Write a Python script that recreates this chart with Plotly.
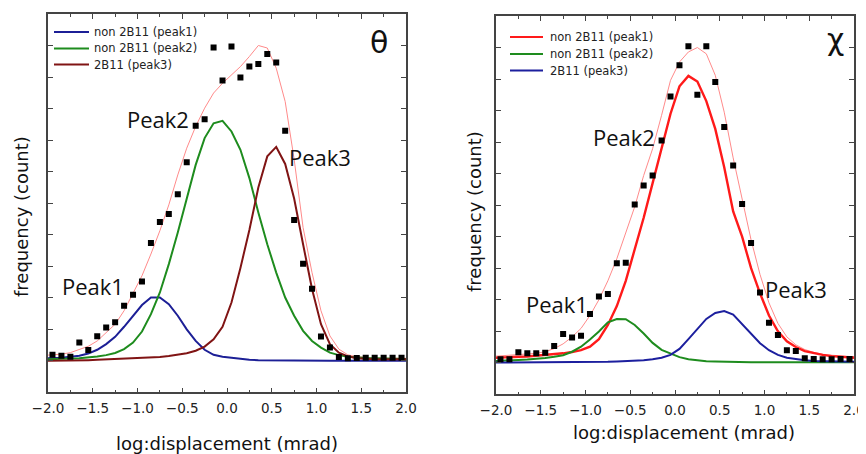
import plotly.graph_objects as go

# ---------------- data ----------------
x_pts = [-1.95, -1.85, -1.75, -1.65, -1.55, -1.45, -1.35, -1.25, -1.15, -1.05,
         -0.95, -0.85, -0.75, -0.65, -0.55, -0.45, -0.35, -0.25, -0.15, -0.05,
         0.05, 0.15, 0.25, 0.35, 0.45, 0.55, 0.65, 0.75, 0.85, 0.95,
         1.05, 1.15, 1.25, 1.35, 1.45, 1.55, 1.65, 1.75, 1.85, 1.95]
x_fit = [-2.0] + x_pts + [2.0]

# theta panel
theta_counts = [0.19, 0.16, 0.13, 0.58, 0.34, 0.78, 1.06, 1.22, 1.75, 2.10,
                2.52, 3.74, 4.41, 4.66, 5.29, 6.30, 7.46, 7.67, 9.95, 8.90,
                9.98, 8.99, 9.34, 9.42, 9.74, 9.47, 7.30, 4.47, 3.08, 2.29,
                0.77, 0.42, 0.12, 0.08, 0.09, 0.10, 0.10, 0.10, 0.10, 0.10]
theta_peak1 = [0.08, 0.08, 0.10, 0.13, 0.16, 0.23, 0.35, 0.53, 0.76, 1.08, 1.43,
               1.77, 2.01, 2.01, 1.80, 1.43, 1.00, 0.63, 0.35, 0.19, 0.13,
               0.09, 0.05, 0.03, 0.02, 0.015, 0.01, 0.008, 0.006, 0.005, 0.004,
               0.003, 0.003, 0.002, 0.002, 0.002, 0.001, 0.001, 0.001, 0.001, 0.0, 0.0]
theta_peak2 = [0.05, 0.05, 0.06, 0.07, 0.08, 0.10, 0.14, 0.18, 0.25, 0.37, 0.58,
               0.93, 1.48, 2.17, 3.07, 4.07, 5.15, 6.22, 7.07, 7.54, 7.62,
               7.28, 6.70, 5.80, 4.71, 3.70, 2.80, 2.01, 1.43, 0.95, 0.63,
               0.42, 0.26, 0.18, 0.13, 0.10, 0.09, 0.08, 0.07, 0.07, 0.06, 0.06]
theta_peak3 = [0.0, 0.0, 0.01, 0.01, 0.02, 0.02, 0.03, 0.04, 0.05, 0.06, 0.07,
               0.09, 0.10, 0.12, 0.15, 0.19, 0.24, 0.32, 0.45, 0.68, 1.08,
               1.85, 2.95, 4.15, 5.50, 6.49, 6.79, 6.25, 5.15, 3.70, 2.28,
               1.16, 0.53, 0.26, 0.14, 0.08, 0.06, 0.05, 0.05, 0.05, 0.05, 0.05]
theta_total = [0.18, 0.19, 0.21, 0.26, 0.35, 0.46, 0.63, 0.90, 1.16, 1.59, 2.12,
               2.70, 3.39, 4.13, 4.95, 5.90, 6.75, 7.44, 8.02, 8.50, 8.81,
               9.08, 9.34, 9.66, 10.01, 9.93, 9.29, 8.23, 6.40, 4.23, 2.80,
               1.59, 0.79, 0.37, 0.19, 0.13, 0.10, 0.09, 0.08, 0.08, 0.08, 0.08]

# chi panel
chi_counts = [0.11, 0.11, 0.33, 0.30, 0.30, 0.32, 0.53, 0.91, 0.80, 0.86,
              1.55, 2.10, 2.18, 3.16, 3.17, 5.02, 5.62, 5.94, 7.05, 8.45,
              9.44, 10.04, 8.50, 10.04, 8.91, 7.48, 6.26, 5.04, 3.80, 2.23,
              1.27, 0.88, 0.40, 0.37, 0.14, 0.12, 0.11, 0.11, 0.12, 0.12]
chi_peak1 = [0.16, 0.17, 0.18, 0.19, 0.20, 0.22, 0.24, 0.27, 0.30, 0.34, 0.40,
             0.51, 0.75, 1.20, 1.80, 2.60, 3.60, 4.60, 5.70, 6.80, 7.90,
             8.77, 9.10, 8.92, 8.30, 7.42, 6.20, 4.80, 4.00, 3.00, 2.20,
             1.50, 1.00, 0.68, 0.50, 0.37, 0.30, 0.25, 0.21, 0.19, 0.17, 0.16]
chi_peak2 = [0.06, 0.07, 0.08, 0.09, 0.10, 0.12, 0.15, 0.19, 0.24, 0.35, 0.51,
             0.74, 0.99, 1.28, 1.39, 1.38, 1.20, 0.93, 0.63, 0.41, 0.29,
             0.18, 0.11, 0.07, 0.05, 0.04, 0.03, 0.03, 0.02, 0.02, 0.02,
             0.02, 0.02, 0.02, 0.02, 0.02, 0.02, 0.02, 0.02, 0.02, 0.02, 0.02]
chi_peak3 = [0.01, 0.01, 0.01, 0.01, 0.01, 0.02, 0.02, 0.02, 0.02, 0.02, 0.03,
             0.03, 0.03, 0.03, 0.04, 0.05, 0.06, 0.08, 0.11, 0.16, 0.25,
             0.44, 0.75, 1.08, 1.39, 1.58, 1.64, 1.53, 1.22, 0.91, 0.62,
             0.40, 0.25, 0.16, 0.11, 0.08, 0.06, 0.05, 0.04, 0.03, 0.03, 0.03]
chi_total = [0.21, 0.22, 0.23, 0.25, 0.27, 0.30, 0.35, 0.45, 0.60, 0.82, 1.09,
             1.50, 2.00, 2.60, 3.30, 4.10, 4.95, 5.94, 6.79, 7.85, 8.96,
             9.54, 9.86, 10.00, 9.80, 9.12, 7.95, 6.50, 5.15, 3.90, 2.80,
             1.90, 1.25, 0.82, 0.57, 0.42, 0.33, 0.27, 0.24, 0.21, 0.20, 0.20]

x_ticks = [-2.0, -1.5, -1.0, -0.5, 0.0, 0.5, 1.0, 1.5, 2.0]
legend_names = ["non 2B11 (peak1)", "non 2B11 (peak2)", "2B11 (peak3)"]
theta_colors = ["#1c1f96", "#1e8c1e", "#801414"]
chi_colors = ["#ff1a1a", "#1e8c1e", "#1c1f9e"]

# ---------------- styling ----------------
W, H = 866, 454
OFF = 8  # page body margin offset
FONT = "DejaVu Sans"
AX = "#444444"
THIN_RED = "#ff8a8a"


def px(x):
    return (x - OFF) / W


def py(y):
    return 1 - (y - OFF) / H


fig = go.Figure()

# theta panel
fig.add_trace(go.Scatter(x=x_fit, y=theta_total, mode="lines", line=dict(color=THIN_RED, width=1),
                         showlegend=False, xaxis="x", yaxis="y"))
for name, ys, col in zip(legend_names, [theta_peak1, theta_peak2, theta_peak3], theta_colors):
    fig.add_trace(go.Scatter(x=x_fit, y=ys, mode="lines", name=name, line=dict(color=col, width=2),
                             showlegend=False, xaxis="x", yaxis="y"))
fig.add_trace(go.Scatter(x=x_pts, y=theta_counts, mode="markers",
                         marker=dict(symbol="square", size=6, color="black"),
                         showlegend=False, xaxis="x", yaxis="y"))

# chi panel
fig.add_trace(go.Scatter(x=x_fit, y=chi_total, mode="lines", line=dict(color=THIN_RED, width=1),
                         showlegend=False, xaxis="x2", yaxis="y2"))
for name, ys, col, w in zip(legend_names, [chi_peak1, chi_peak2, chi_peak3], chi_colors, [2.4, 2, 2]):
    fig.add_trace(go.Scatter(x=x_fit, y=ys, mode="lines", name=name, line=dict(color=col, width=w),
                             showlegend=False, xaxis="x2", yaxis="y2"))
fig.add_trace(go.Scatter(x=x_pts, y=chi_counts, mode="markers",
                         marker=dict(symbol="square", size=6, color="black"),
                         showlegend=False, xaxis="x2", yaxis="y2"))

xaxis_common = dict(range=[-2, 2], tickvals=x_ticks,
                    ticktext=[("\u2212" if v < 0 else "") + f"{abs(v):.1f}" for v in x_ticks],
                    ticks="inside", ticklen=5, tickwidth=1.2, tickcolor=AX,
                    minor=dict(dtick=0.25, tick0=0, ticks="inside", ticklen=3, tickcolor=AX, tickwidth=1),
                    showline=True, linecolor=AX, linewidth=1.5, mirror="allticks",
                    showgrid=False, zeroline=False, automargin=False,
                    tickfont=dict(family=FONT, size=13.5, color="#222222"), ticklabelstandoff=3)
yaxis_common = dict(range=[-1, 11], dtick=1, tick0=0, ticks="inside", ticklen=5, tickwidth=1.2, tickcolor=AX,
                    showline=True, linecolor=AX, linewidth=1.5, mirror="allticks", automargin=False,
                    showgrid=False, zeroline=False, showticklabels=False)

fig.update_layout(
    width=W, height=H, margin=dict(l=0, r=0, t=0, b=0, pad=0, autoexpand=False),
    paper_bgcolor="white", plot_bgcolor="white",
    xaxis=dict(domain=[px(48), px(406)], anchor="y", **xaxis_common),
    yaxis=dict(domain=[py(392.3), py(14.3)], anchor="x", **yaxis_common),
    xaxis2=dict(domain=[px(496), px(854)], anchor="y2", **xaxis_common),
    yaxis2=dict(domain=[py(394.3), py(16)], anchor="x2", **yaxis_common),
    showlegend=False,
)

ann = []
shapes = []


def add_text(text, x, y, size, family=FONT, angle=0, color="#111111", xanchor="center"):
    ann.append(dict(text=text, x=px(x), y=py(y), xref="paper", yref="paper", showarrow=False,
                    xanchor=xanchor, yanchor="middle", textangle=angle,
                    font=dict(family=family, size=size, color=color)))


# manual legends
for i, (name, col) in enumerate(zip(legend_names, theta_colors)):
    yy = [32, 48.5, 64.5][i]
    shapes.append(dict(type="line", xref="paper", yref="paper", x0=px(54), x1=px(89), y0=py(yy), y1=py(yy),
                       line=dict(color=col, width=2)))
    add_text(name, 92, yy, 11.5, xanchor="left", color="#222222")
for i, (name, col) in enumerate(zip(legend_names, chi_colors)):
    yy = [37, 54, 70.5][i]
    shapes.append(dict(type="line", xref="paper", yref="paper", x0=px(510), x1=px(543), y0=py(yy), y1=py(yy),
                       line=dict(color=col, width=2)))
    add_text(name, 548, yy, 11.5, xanchor="left", color="#222222")

add_text("log:displacement (mrad)", 227, 443, 18)
add_text("log:displacement (mrad)", 684, 432, 18)
add_text("frequency (count)", 21, 217, 18, angle=-90)
add_text("frequency (count)", 475, 212, 18, angle=-90)
add_text("θ", 379, 42, 30)
add_text("χ", 835, 40, 30)
add_text("Peak1", 93, 286, 22, family="Open Sans")
add_text("Peak2", 158, 119, 22, family="Open Sans")
add_text("Peak3", 320, 157, 22, family="Open Sans")
add_text("Peak1", 557, 304, 22, family="Open Sans")
add_text("Peak2", 624, 137, 22, family="Open Sans")
add_text("Peak3", 796, 289, 22, family="Open Sans")
fig.update_layout(annotations=ann, shapes=shapes)

fig.write_html("out.html")
